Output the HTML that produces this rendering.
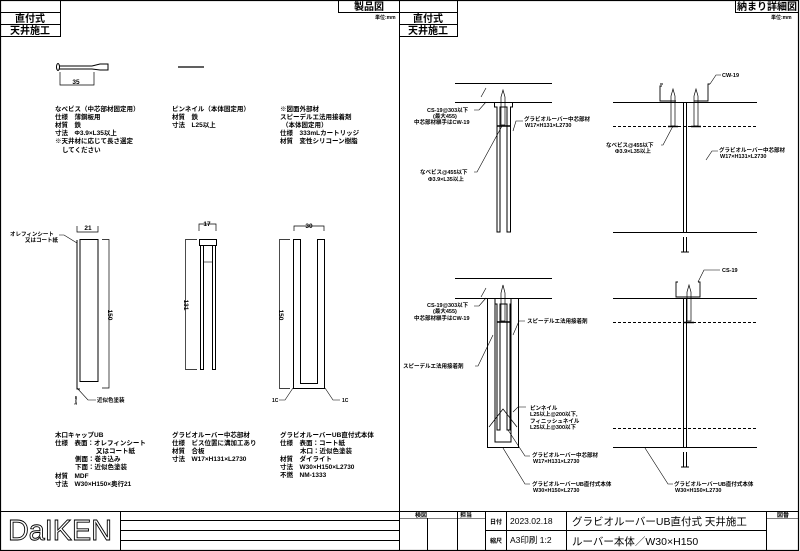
<!DOCTYPE html>
<html><head><meta charset="utf-8"><style>
html,body{margin:0;padding:0;background:#fff;width:800px;height:551px;overflow:hidden}
svg{display:block}
text{font-family:"Liberation Sans","Noto Sans CJK JP",sans-serif;font-weight:bold;fill:#000}
.s{font-size:6.5px}
.m{font-size:8px}
.h{font-size:10px;font-weight:bold}
</style></head><body>
<svg width="800" height="551" viewBox="0 0 800 551" xmlns="http://www.w3.org/2000/svg" fill="none" stroke="#000" stroke-width="1">
<rect x="0.5" y="0.5" width="798" height="550" stroke-width="1.2"/>
<line x1="399.5" y1="0" x2="399.5" y2="511"/>
<rect x="0.5" y="0.5" width="60" height="12"/>
<rect x="0.5" y="12.5" width="60" height="12"/>
<rect x="0.5" y="24.5" width="60" height="12"/>
<text x="30" y="22" class="h" text-anchor="middle" stroke="none">直付式</text>
<text x="30" y="34" class="h" text-anchor="middle" stroke="none">天井施工</text>
<rect x="338.5" y="0.5" width="61" height="12"/>
<text x="369" y="10" class="h" text-anchor="middle" stroke="none">製品図</text>
<text x="375" y="19" style="font-size:5px" stroke="none">単位:mm</text>
<rect x="399.5" y="0.5" width="58" height="12"/>
<rect x="399.5" y="12.5" width="58" height="12"/>
<rect x="399.5" y="24.5" width="58" height="12"/>
<text x="428" y="22" class="h" text-anchor="middle" stroke="none">直付式</text>
<text x="428" y="34" class="h" text-anchor="middle" stroke="none">天井施工</text>
<rect x="735.5" y="0.5" width="63" height="12"/>
<text x="767" y="10" class="h" text-anchor="middle" stroke="none">納まり詳細図</text>
<text x="771" y="19" style="font-size:5px" stroke="none">単位:mm</text>

<ellipse cx="58" cy="67" rx="1.5" ry="3.5"/>
<line x1="59" y1="66" x2="92" y2="66"/><line x1="59" y1="69" x2="92" y2="69"/>
<path d="M92 66 L100 64 L108 64 L108 70 L100 70 L92 69"/>
<path d="M60 72 V85 H94 V72" stroke-width="0.7"/>
<text x="76" y="84" class="s" text-anchor="middle" stroke="none">35</text>
<line x1="178" y1="67" x2="204" y2="67" stroke-width="1.2"/>

<g class="s" stroke="none">
<text x="55" y="111" class="s">なべビス（中芯部材固定用）</text>
<text x="55" y="119" class="s">仕様　薄鋼板用</text>
<text x="55" y="127" class="s">材質　鉄</text>
<text x="55" y="135" class="s">寸法　Φ3.9×L35以上</text>
<text x="55" y="143" class="s">※天井材に応じて長さ選定</text>
<text x="62" y="152" class="s">してください</text>
<text x="172" y="111" class="s">ピンネイル（本体固定用）</text>
<text x="172" y="119" class="s">材質　鉄</text>
<text x="172" y="127" class="s">寸法　L25以上</text>
<text x="280" y="111" class="s">※図面外部材</text>
<text x="280" y="119" class="s">スピーデルエ法用接着剤</text>
<text x="282" y="127" class="s">（本体固定用）</text>
<text x="280" y="135" class="s">仕様　333mLカートリッジ</text>
<text x="280" y="143" class="s">材質　変性シリコーン樹脂</text>
</g>

<rect x="80" y="239.5" width="18" height="142"/>
<path d="M77 240 V389 H80"/>
<path d="M77 226 V232 H98 V226" stroke-width="0.7"/>
<text x="88" y="230" class="s" text-anchor="middle" stroke="none">21</text>
<path d="M102 239.5 H109 V388 H102" stroke-width="0.7"/>
<text x="108" y="315" class="s" text-anchor="middle" stroke="none" transform="rotate(90 108 315)">150</text>
<text x="10" y="236" class="s" stroke="none" style="font-size:5.5px">オレフィンシート</text>
<text x="25" y="242" class="s" stroke="none" style="font-size:5.5px">又はコート紙</text>
<path d="M59 235 L64 235 L77 243" stroke-width="0.6"/>
<path d="M77 388 L88 400 H96" stroke-width="0.6"/>
<text x="97" y="402" class="s" stroke="none" style="font-size:5.5px">近似色塗装</text>
<text x="77" y="405" class="s" stroke="none" style="font-size:4px" transform="rotate(-90 77 405)">3mm</text>

<rect x="199.5" y="239.5" width="17" height="6"/>
<rect x="200.5" y="245.5" width="3" height="124"/>
<rect x="212.5" y="245.5" width="3" height="124"/>
<line x1="203" y1="262" x2="212" y2="262" stroke-width="0.6"/>
<path d="M199 231 V224 H216 V231" stroke-width="0.7"/>
<text x="207" y="226" class="s" text-anchor="middle" stroke="none">17</text>
<path d="M197 239.5 H185.5 V369.5 H197" stroke-width="0.7"/>
<text x="184" y="305" class="s" text-anchor="middle" stroke="none" transform="rotate(90 184 305)">131</text>

<path d="M293.5 239.5 V388.5 H324.5 V239.5 H317.5 V383.5 H300.5 V239.5 Z"/>
<path d="M294 231 V226 H324 V231" stroke-width="0.7"/>
<text x="309" y="228" class="s" text-anchor="middle" stroke="none">30</text>
<path d="M290 239.5 H279.5 V388.5 H290" stroke-width="0.7"/>
<text x="279" y="315" class="s" text-anchor="middle" stroke="none" transform="rotate(90 279 315)">150</text>
<path d="M293 388 L285 400 H279" stroke-width="0.6"/>
<path d="M325 388 L333 400 H340" stroke-width="0.6"/>
<text x="272" y="402" stroke="none" style="font-size:5px">1C</text>
<text x="342" y="402" stroke="none" style="font-size:5px">1C</text>

<g stroke="none">
<text x="55" y="437" class="s">木口キャップUB</text>
<text x="55" y="445" class="s">仕様　表面：オレフィンシート</text>
<text x="96" y="453" class="s">又はコート紙</text>
<text x="75" y="461" class="s">側面：巻き込み</text>
<text x="75" y="469" class="s">下面：近似色塗装</text>
<text x="55" y="478" class="s">材質　MDF</text>
<text x="55" y="486" class="s">寸法　W30×H150×奥行21</text>
<text x="172" y="437" class="s">グラビオルーバー中芯部材</text>
<text x="172" y="445" class="s">仕様　ビス位置に溝加工あり</text>
<text x="172" y="453" class="s">材質　合板</text>
<text x="172" y="461" class="s">寸法　W17×H131×L2730</text>
<text x="280" y="437" class="s">グラビオルーバーUB直付式本体</text>
<text x="280" y="445" class="s">仕様　表面：コート紙</text>
<text x="300" y="453" class="s">木口：近似色塗装</text>
<text x="280" y="461" class="s">材質　ダイライト</text>
<text x="280" y="469" class="s">寸法　W30×H150×L2730</text>
<text x="280" y="477" class="s">不燃　NM-1333</text>
</g>

<line x1="455" y1="83.5" x2="552" y2="83.5"/>
<line x1="455" y1="102.5" x2="552" y2="102.5"/>
<path d="M494.5 102.5 V107 H497 V232 H500 V107 H507 V232 H510.5 V107 H512.5 V102.5" />
<path d="M501 102 V97 L503 90 L505 97 V102 M501 102 V125 H505 V102" stroke-width="0.7"/>
<line x1="497" y1="126" x2="510" y2="126" stroke-width="1.5"/>
<path d="M486 88 L481 97" stroke-width="0.6"/>
<path d="M474 110 H479 L486 102" stroke-width="0.6"/>
<g stroke="none" style="font-size:5.5px">
<text x="427" y="112" style="font-size:5.5px">CS-19@303以下</text>
<text x="433" y="118" style="font-size:5.5px">(最大455)</text>
<text x="414" y="124" style="font-size:5.5px">中芯部材継手はCW-19</text>
<text x="524" y="121" style="font-size:5.5px">グラビオルーバー中芯部材</text>
<text x="525" y="127" style="font-size:5.5px">W17×H131×L2730</text>
<text x="420" y="174" style="font-size:5.5px">なべビス@455以下</text>
<text x="428" y="181" style="font-size:5.5px">Φ3.9×L35以上</text>
</g>
<path d="M513 131 L516 121 H523" stroke-width="0.6"/>
<path d="M474 172 H477 L502 126" stroke-width="0.6"/>

<line x1="613" y1="102.5" x2="757" y2="102.5"/>
<line x1="613" y1="126.5" x2="757" y2="126.5" stroke-dasharray="3,2"/>
<line x1="613" y1="232.5" x2="757" y2="232.5"/>
<path d="M662 86 H660 V101 H676 M694 101 H708 V84 H710" stroke-width="0.9"/>
<path d="M660 84 H663 M708 84 H710"/>
<path d="M671 102 V96 L673 89 L675 96 V102 M671 102 V126 H675 V102" stroke-width="0.7"/>
<path d="M694 102 V96 L696 89 L698 96 V102 M694 102 V126 H698 V102" stroke-width="0.7"/>
<line x1="668" y1="126.5" x2="678" y2="126.5" stroke-width="1.5"/>
<line x1="691" y1="126.5" x2="701" y2="126.5" stroke-width="1.5"/>
<line x1="683.5" y1="103" x2="683.5" y2="232"/><line x1="686.5" y1="103" x2="686.5" y2="232"/>
<line x1="683.5" y1="237" x2="683.5" y2="252"/><line x1="686.5" y1="237" x2="686.5" y2="252"/>
<line x1="681" y1="252" x2="689" y2="252"/>
<path d="M710 84 L716 75 H721" stroke-width="0.6"/>
<path d="M661 145 H663 L673 126" stroke-width="0.6"/>
<path d="M706 160 L712 151 H718" stroke-width="0.6"/>
<g stroke="none">
<text x="722" y="77" style="font-size:5.5px">CW-19</text>
<text x="606" y="147" style="font-size:5.5px">なべビス@455以下</text>
<text x="615" y="153" style="font-size:5.5px">Φ3.9×L35以上</text>
<text x="719" y="152" style="font-size:5.5px">グラビオルーバー中芯部材</text>
<text x="720" y="158" style="font-size:5.5px">W17×H131×L2730</text>
<text x="722" y="272" style="font-size:5.5px">CS-19</text>
</g>

<line x1="455" y1="278.5" x2="552" y2="278.5"/>
<line x1="455" y1="298.5" x2="552" y2="298.5"/>
<path d="M487.5 298.5 V447.5 H518.5 V298.5 H511 V442 H495 V298.5 Z"/>
<path d="M495 298.5 V304 H497 V430 H500 V304 H507 V430 H510 V304 H511"/>
<path d="M501 298 V293 L503 285 L505 293 V298 M501 298 V321 H505 V298" stroke-width="0.7"/>
<line x1="497" y1="322" x2="510" y2="322" stroke-width="1.5"/>
<path d="M489 427 L503 409 L517 427" stroke-width="0.7"/>
<path d="M486 288 L481 297" stroke-width="0.6"/>
<path d="M474 306 H479 L486 298" stroke-width="0.6"/>
<path d="M513 335 L519 321 H525" stroke-width="0.6"/>
<path d="M475 366 H478 L493 335" stroke-width="0.6"/>
<path d="M513 412 L518 407 H526" stroke-width="0.6"/>
<path d="M508 430 L525 456 H530" stroke-width="0.6"/>
<path d="M503 448 L525 484 H530" stroke-width="0.6"/>
<g stroke="none">
<text x="427" y="307" style="font-size:5.5px">CS-19@303以下</text>
<text x="433" y="313" style="font-size:5.5px">(最大455)</text>
<text x="414" y="320" style="font-size:5.5px">中芯部材継手はCW-19</text>
<text x="527" y="323" style="font-size:5.5px">スピーデルエ法用接着剤</text>
<text x="403" y="368" style="font-size:5.5px">スピーデルエ法用接着剤</text>
<text x="530" y="410" style="font-size:5.5px">ピンネイル</text>
<text x="530" y="416" style="font-size:5.5px">L25以上@200以下,</text>
<text x="530" y="423" style="font-size:5.5px">フィニッシュネイル</text>
<text x="530" y="429" style="font-size:5.5px">L25以上@300以下</text>
<text x="532" y="457" style="font-size:5.5px">グラビオルーバー中芯部材</text>
<text x="533" y="463" style="font-size:5.5px">W17×H131×L2730</text>
<text x="532" y="486" style="font-size:5.5px">グラビオルーバーUB直付式本体</text>
<text x="533" y="492" style="font-size:5.5px">W30×H150×L2730</text>
</g>

<line x1="613" y1="298.5" x2="757" y2="298.5"/>
<line x1="613" y1="322.5" x2="757" y2="322.5" stroke-dasharray="3,2"/>
<line x1="613" y1="428.5" x2="757" y2="428.5" stroke-dasharray="3,2"/>
<line x1="613" y1="447.5" x2="757" y2="447.5"/>
<path d="M678 282 H676 V297 H700 V282 H698" stroke-width="0.9"/>
<path d="M687 298 V292 L689 285 L691 292 V298 M687 298 V321 H691 V298" stroke-width="0.7"/>
<line x1="684" y1="322.5" x2="694" y2="322.5" stroke-width="1.5"/>
<line x1="683.5" y1="298" x2="683.5" y2="447"/><line x1="686.5" y1="298" x2="686.5" y2="447"/>
<line x1="683.5" y1="452" x2="683.5" y2="467"/><line x1="686.5" y1="452" x2="686.5" y2="467"/>
<line x1="681" y1="467" x2="689" y2="467"/>
<path d="M698 282 L704 270 H720" stroke-width="0.6"/>
<path d="M645 448 L668 484 H673" stroke-width="0.6"/>
<g stroke="none">
<text x="674" y="486" style="font-size:5.5px">グラビオルーバーUB直付式本体</text>
<text x="675" y="492" style="font-size:5.5px">W30×H150×L2730</text>
</g>

<line x1="0" y1="511.5" x2="799" y2="511.5"/>
<line x1="120.5" y1="511" x2="120.5" y2="551"/>
<line x1="120" y1="520.5" x2="400" y2="520.5"/>
<line x1="120" y1="530.5" x2="400" y2="530.5"/>
<line x1="120" y1="540.5" x2="400" y2="540.5"/>
<line x1="399.5" y1="511" x2="399.5" y2="551"/>
<line x1="400" y1="518.5" x2="485" y2="518.5" stroke-width="0.6"/>
<line x1="427.5" y1="518" x2="427.5" y2="551"/>
<line x1="457.5" y1="511" x2="457.5" y2="551"/>
<line x1="485.5" y1="511" x2="485.5" y2="551"/>
<line x1="506.5" y1="511" x2="506.5" y2="551"/>
<line x1="566.5" y1="511" x2="566.5" y2="551"/>
<line x1="766.5" y1="511" x2="766.5" y2="551"/>
<line x1="485" y1="530.5" x2="766" y2="530.5"/>
<line x1="766" y1="518.5" x2="799" y2="518.5" stroke-width="0.6"/>
<g stroke="none">
<text x="421" y="517" style="font-size:6px" text-anchor="middle">検図</text>
<text x="466" y="517" style="font-size:6px" text-anchor="middle">担当</text>
<text x="496" y="524" style="font-size:6px" text-anchor="middle">日付</text>
<text x="496" y="543" style="font-size:6px" text-anchor="middle">縮尺</text>
<text x="783" y="517" style="font-size:6px" text-anchor="middle">図番</text>
<text x="510" y="524" style="font-size:8.5px;font-weight:normal">2023.02.18</text>
<text x="510" y="543" style="font-size:8.5px;font-weight:normal">A3印刷 1:2</text>
<text x="572" y="525" style="font-size:10.5px;font-weight:normal">グラビオルーバーUB直付式 天井施工</text>
<text x="572" y="545" style="font-size:10.5px;font-weight:normal">ルーバー本体／W30×H150</text>
</g>
<text x="8" y="540" style="font-size:29px;font-weight:normal;fill:#fff;stroke:#000;stroke-width:0.9" textLength="104" lengthAdjust="spacingAndGlyphs">DaIKEN</text>
</svg>
</body></html>
